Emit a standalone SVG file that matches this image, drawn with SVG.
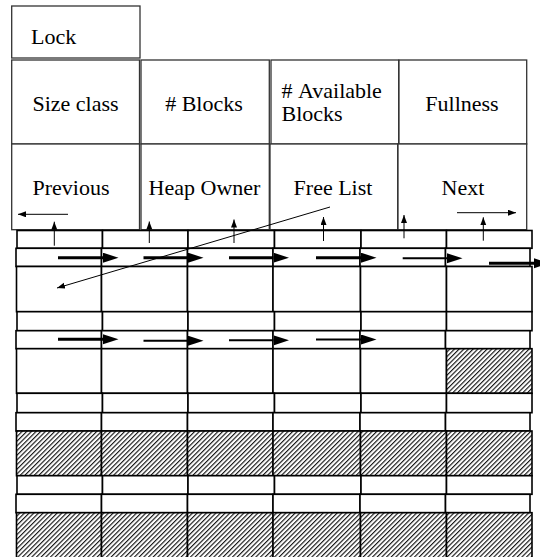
<svg xmlns="http://www.w3.org/2000/svg" width="540" height="557" viewBox="0 0 540 557">
<style>
.hb{fill:#fff;stroke:#333;stroke-width:1.3}
.c{fill:#fff;stroke:#000;stroke-width:1.6}
.h{fill:url(#hatch);stroke:#000;stroke-width:1.6}
.t{font-size:22px;fill:#000}
.m{text-anchor:middle}
.thin{stroke:#000;stroke-width:1;fill:none}
.thick{stroke:#000;stroke-width:3;fill:none}
.mid{stroke:#000;stroke-width:2;fill:none}
</style>
<defs>
<pattern id="hatch" patternUnits="userSpaceOnUse" width="3.3" height="10" patternTransform="rotate(45)">
<rect width="3.3" height="10" fill="#fff"/>
<line x1="0.6" y1="0" x2="0.6" y2="10" stroke="#000" stroke-width="1.05"/>
</pattern>
<marker id="big" markerUnits="userSpaceOnUse" markerWidth="16" markerHeight="11" refX="0" refY="5" orient="auto">
<path d="M0,0 L15.5,5 L0,10 z" fill="#000"/>
</marker>
<marker id="small" markerUnits="userSpaceOnUse" markerWidth="9" markerHeight="7" refX="8" refY="3" orient="auto">
<path d="M0,0 L8,3 L0,6 z" fill="#000"/>
</marker>
</defs>

<g font-family="Liberation Serif, Times New Roman, DejaVu Serif, serif">
<g id="lock"><rect class="hb" x="11.7" y="6" width="128.3" height="52"/><text class="t" x="31" y="44">Lock</text></g>
<g id="size-class"><rect class="hb" x="11.7" y="60" width="127.8" height="84"/><text class="t m" x="75.5" y="111">Size class</text></g>
<g id="blocks"><rect class="hb" x="141" y="60" width="128.3" height="84"/><text class="t m" x="204" y="110.5">#&#160;Blocks</text></g>
<g id="available-blocks"><rect class="hb" x="271" y="60" width="127.7" height="84"/><text class="t" x="281.5" y="98">#&#160;Available</text><text class="t" x="281.5" y="121">Blocks</text></g>
<g id="fullness"><rect class="hb" x="399" y="60" width="127.7" height="84"/><text class="t m" x="462" y="110.5">Fullness</text></g>
<g id="previous"><rect class="hb" x="11.7" y="144" width="127.8" height="85.7"/><text class="t m" x="71" y="195">Previous</text></g>
<g id="heap-owner"><rect class="hb" x="141" y="144" width="128.3" height="85.7"/><text class="t m" x="204.5" y="194.5">Heap Owner</text></g>
<g id="free-list"><rect class="hb" x="270" y="144" width="127.7" height="85.7"/><text class="t m" x="333" y="194.5">Free List</text></g>
<g id="next"><rect class="hb" x="398" y="144" width="128.7" height="85.7"/><text class="t m" x="463" y="194.5">Next</text></g>
</g>

<g id="grid-group-1">
<rect class="c" x="17" y="230.5" width="85.5" height="17.8"/><rect class="c" x="102.5" y="230.5" width="85.5" height="17.8"/><rect class="c" x="188" y="230.5" width="86.5" height="17.8"/><rect class="c" x="274.5" y="230.5" width="86.5" height="17.8"/><rect class="c" x="361" y="230.5" width="85.5" height="17.8"/><rect class="c" x="446.5" y="230.5" width="85.5" height="17.8"/>
<rect class="c" x="16" y="248.3" width="85.5" height="18.2"/><rect class="c" x="101.5" y="248.3" width="86" height="18.2"/><rect class="c" x="187.5" y="248.3" width="85.5" height="18.2"/><rect class="c" x="273" y="248.3" width="87" height="18.2"/><rect class="c" x="360" y="248.3" width="85.5" height="18.2"/><rect class="c" x="445.5" y="248.3" width="84.5" height="18.2"/>
<rect class="c" x="16.5" y="266.5" width="85" height="45.2"/><rect class="c" x="101.5" y="266.5" width="86" height="45.2"/><rect class="c" x="187.5" y="266.5" width="85.5" height="45.2"/><rect class="c" x="273" y="266.5" width="87.5" height="45.2"/><rect class="c" x="360.5" y="266.5" width="86" height="45.2"/><rect class="c" x="446.5" y="266.5" width="85.5" height="45.2"/>
</g>
<g id="grid-group-2">
<rect class="c" x="17" y="311.7" width="85.5" height="19"/><rect class="c" x="102.5" y="311.7" width="85.5" height="19"/><rect class="c" x="188" y="311.7" width="86.5" height="19"/><rect class="c" x="274.5" y="311.7" width="86.5" height="19"/><rect class="c" x="361" y="311.7" width="85.5" height="19"/><rect class="c" x="446.5" y="311.7" width="85.5" height="19"/>
<rect class="c" x="16" y="330.7" width="85.5" height="18"/><rect class="c" x="101.5" y="330.7" width="86" height="18"/><rect class="c" x="187.5" y="330.7" width="85.5" height="18"/><rect class="c" x="273" y="330.7" width="87" height="18"/><rect class="c" x="360" y="330.7" width="85.5" height="18"/><rect class="c" x="445.5" y="330.7" width="84.5" height="18"/>
<rect class="c" x="16.5" y="348.7" width="85" height="44.6"/><rect class="c" x="101.5" y="348.7" width="86" height="44.6"/><rect class="c" x="187.5" y="348.7" width="85.5" height="44.6"/><rect class="c" x="273" y="348.7" width="87.5" height="44.6"/><rect class="c" x="360.5" y="348.7" width="86" height="44.6"/><rect class="h" x="446.5" y="348.7" width="85.5" height="44.6"/>
</g>
<g id="grid-group-3">
<rect class="c" x="17" y="393.3" width="85.5" height="19.4"/><rect class="c" x="102.5" y="393.3" width="85.5" height="19.4"/><rect class="c" x="188" y="393.3" width="86.5" height="19.4"/><rect class="c" x="274.5" y="393.3" width="86.5" height="19.4"/><rect class="c" x="361" y="393.3" width="85.5" height="19.4"/><rect class="c" x="446.5" y="393.3" width="85.5" height="19.4"/>
<rect class="c" x="16" y="412.7" width="85.5" height="18.3"/><rect class="c" x="101.5" y="412.7" width="86" height="18.3"/><rect class="c" x="187.5" y="412.7" width="85.5" height="18.3"/><rect class="c" x="273" y="412.7" width="87" height="18.3"/><rect class="c" x="360" y="412.7" width="85.5" height="18.3"/><rect class="c" x="445.5" y="412.7" width="84.5" height="18.3"/>
<rect class="h" x="16.5" y="431" width="85" height="44.7"/><rect class="h" x="101.5" y="431" width="86" height="44.7"/><rect class="h" x="187.5" y="431" width="85.5" height="44.7"/><rect class="h" x="273" y="431" width="87.5" height="44.7"/><rect class="h" x="360.5" y="431" width="86" height="44.7"/><rect class="h" x="446.5" y="431" width="85.5" height="44.7"/>
</g>
<g id="grid-group-4">
<rect class="c" x="17" y="475.7" width="85.5" height="18.6"/><rect class="c" x="102.5" y="475.7" width="85.5" height="18.6"/><rect class="c" x="188" y="475.7" width="86.5" height="18.6"/><rect class="c" x="274.5" y="475.7" width="86.5" height="18.6"/><rect class="c" x="361" y="475.7" width="85.5" height="18.6"/><rect class="c" x="446.5" y="475.7" width="85.5" height="18.6"/>
<rect class="c" x="16" y="494.3" width="85.5" height="18.4"/><rect class="c" x="101.5" y="494.3" width="86" height="18.4"/><rect class="c" x="187.5" y="494.3" width="85.5" height="18.4"/><rect class="c" x="273" y="494.3" width="87" height="18.4"/><rect class="c" x="360" y="494.3" width="85.5" height="18.4"/><rect class="c" x="445.5" y="494.3" width="84.5" height="18.4"/>
<rect class="h" x="16.5" y="512.7" width="85" height="46"/><rect class="h" x="101.5" y="512.7" width="86" height="46"/><rect class="h" x="187.5" y="512.7" width="85.5" height="46"/><rect class="h" x="273" y="512.7" width="87.5" height="46"/><rect class="h" x="360.5" y="512.7" width="86" height="46"/><rect class="h" x="446.5" y="512.7" width="85.5" height="46"/>
</g>

<g id="connectors">
<line class="thin" x1="68" y1="214.3" x2="18" y2="214.3" marker-end="url(#small)"/>
<line class="thin" x1="457" y1="212.7" x2="516" y2="212.7" marker-end="url(#small)"/>
<line class="thin" x1="54.3" y1="245.7" x2="54.3" y2="221.7" marker-end="url(#small)"/>
<line class="thin" x1="149.3" y1="243" x2="149.3" y2="221.5" marker-end="url(#small)"/>
<line class="thin" x1="234" y1="243" x2="234" y2="219.5" marker-end="url(#small)"/>
<line class="thin" x1="323.5" y1="241" x2="323.5" y2="217" marker-end="url(#small)"/>
<line class="thin" x1="404" y1="238.3" x2="404" y2="215" marker-end="url(#small)"/>
<line class="thin" x1="483.3" y1="240.7" x2="483.3" y2="217.3" marker-end="url(#small)"/>
<line class="thin" x1="330" y1="207" x2="57" y2="288" marker-end="url(#small)"/>
<line class="thick" x1="58" y1="257.7" x2="103" y2="257.7" marker-end="url(#big)"/>
<line class="thick" x1="143.5" y1="257.7" x2="188" y2="257.7" marker-end="url(#big)"/>
<line class="thick" x1="229" y1="257.7" x2="273.5" y2="257.7" marker-end="url(#big)"/>
<line class="thick" x1="316" y1="257.7" x2="361" y2="257.7" marker-end="url(#big)"/>
<line class="mid" x1="402.7" y1="258.3" x2="447" y2="258.3" marker-end="url(#big)"/>
<line class="thick" x1="489" y1="263.3" x2="534" y2="263.3" marker-end="url(#big)"/>
<line class="thick" x1="58" y1="339.3" x2="103" y2="339.3" marker-end="url(#big)"/>
<line class="mid" x1="143.5" y1="340.7" x2="188" y2="340.7" marker-end="url(#big)"/>
<line class="mid" x1="229" y1="340.3" x2="273.5" y2="340.3" marker-end="url(#big)"/>
<line class="mid" x1="316" y1="339.5" x2="361" y2="339.5" marker-end="url(#big)"/>
</g>
</svg>
